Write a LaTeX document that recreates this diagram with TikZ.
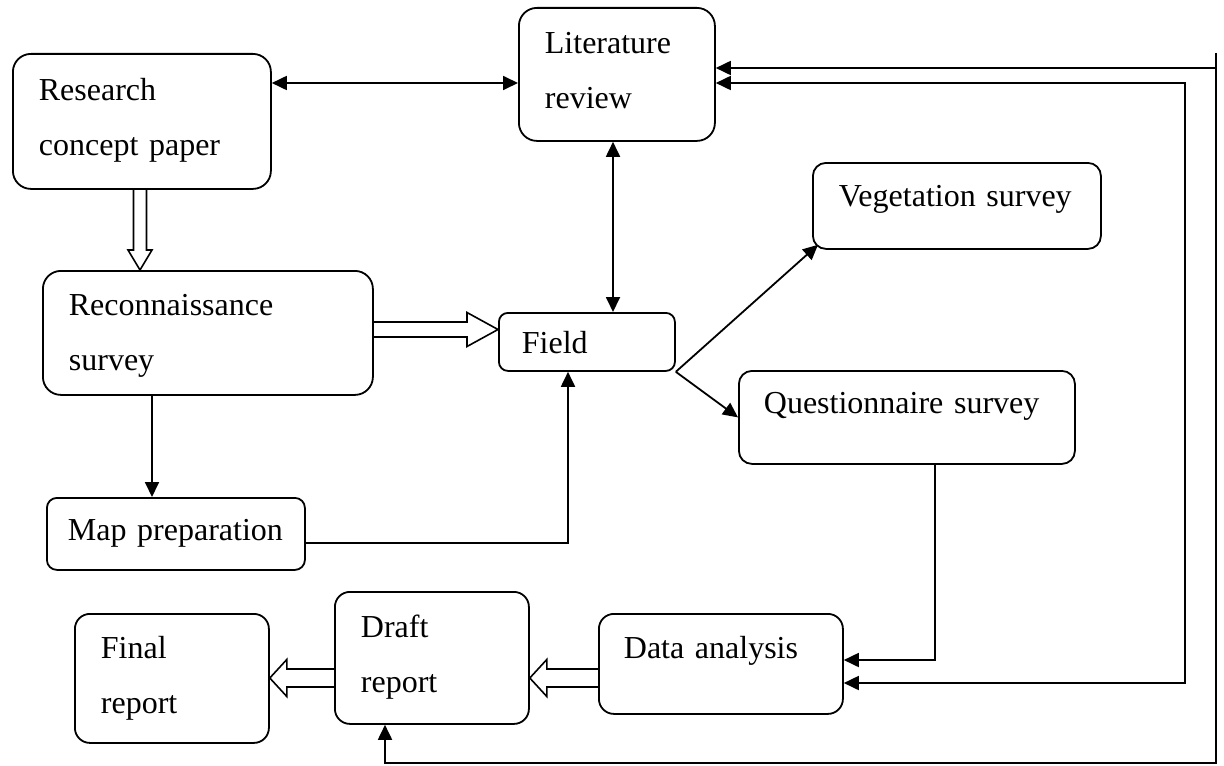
\documentclass[tikz,border=0pt]{standalone}
\usepackage{fontspec}
\setmainfont{Liberation Serif}
\usetikzlibrary{arrows.meta,calc}

\tikzset{
  stage/.style={draw=black, line width=0.9pt, rounded corners=7.5pt, anchor=north west, inner ysep=0pt, align=left, font=\fontsize{16pt}{27.5pt}\selectfont},
  link/.style={line width=0.9pt, >={Triangle[length=7.5pt,width=7pt]}},
  hollow h/.style args={#1/#2/#3}{line width=0.8pt, to path={let \p1=(\tikztostart), \p2=(\tikztotarget), \n1={(\x2-\x1)/abs(\x2-\x1)} in
    (\x1,{\y2+#1}) -- ({\x2-(\n1)*#3},{\y2+#1}) -- ({\x2-(\n1)*#3},{\y2+#2}) -- (\p2) -- ({\x2-(\n1)*#3},{\y2-#2}) -- ({\x2-(\n1)*#3},{\y2-#1}) -- (\x1,{\y2-#1})}},
  hollow v/.style args={#1/#2/#3}{line width=0.8pt, to path={let \p1=(\tikztostart), \p2=(\tikztotarget), \n1={(\y2-\y1)/abs(\y2-\y1)} in
    ({\x2+#1},\y1) -- ({\x2+#1},{\y2-(\n1)*#3}) -- ({\x2+#2},{\y2-(\n1)*#3}) -- (\p2) -- ({\x2-#2},{\y2-(\n1)*#3}) -- ({\x2-#1},{\y2-(\n1)*#3}) -- ({\x2-#1},\y1)}}
}

\begin{document}
\begin{tikzpicture}[x=0.5pt, y=-0.5pt]
			\useasboundingbox (0,0) rectangle (1224,765);
			\node[stage, rounded corners=9pt, inner xsep=13pt, text width=103pt, text height=23.5pt, text depth=44pt] (research) at (12,53) {Research\\concept paper};
			\node[stage, rounded corners=9pt, inner xsep=13pt, text width=72pt, text height=23pt, text depth=43.5pt] (lit) at (518,7) {Literature\\review};
			\node[stage, rounded corners=6.5pt, inner xsep=13pt, text width=118pt, text height=22pt, text depth=21pt] (veg) at (812,162) {Vegetation survey};
			\node[stage, rounded corners=9pt, inner xsep=13pt, text width=139pt, text height=22.5pt, text depth=39.5pt] (recon) at (42,270) {Reconnaissance\\survey};
			\node[stage, rounded corners=4.5pt, inner xsep=11.5pt, text width=65pt, text height=20.5pt, text depth=8.5pt] (field) at (498,312) {Field};
			\node[stage, rounded corners=6.5pt, inner xsep=12.5pt, text width=143pt, text height=21.5pt, text depth=25pt] (quest) at (738,370) {Questionnaire survey};
			\node[stage, rounded corners=5pt, inner xsep=10.5pt, text width=108pt, text height=21.5pt, text depth=14.5pt] (map) at (46,497) {Map preparation};
			\node[stage, inner xsep=13pt, text width=71pt, text height=22.5pt, text depth=42pt] (final) at (74,613) {Final\\report};
			\node[stage, inner xsep=13pt, text width=71pt, text height=23pt, text depth=43pt] (draft) at (334,591) {Draft\\report};
			\node[stage, inner xsep=12.5pt, text width=97pt, text height=22.5pt, text depth=27.5pt] (data) at (598,613) {Data analysis};
			
			\coordinate (outertop) at (1216,53);
			\coordinate (outerbot) at (1216,763);
			\coordinate (innerbot) at (1185,683);
			
			\draw[link, <->] (research.east |- 0,83) -- (lit.west |- 0,83);
			\draw[link, <->] (lit.south -| 613,0) -- (field.north -| 613,0);
			\draw[link, ->] (field.south east) -- ($(veg.south west)+(6,-5)$);
			\draw[link, ->] (field.south east) -- (quest.west);
			\draw[link, ->] (recon.south -| 152,0) -- (map.north -| 152,0);
			\draw[link, ->] (map.east |- 0,543) -| (field.south -| 568,0);
			\draw[link, ->] (quest.south -| 935,0) |- (data.east |- 0,660);
			\draw[link, ->] (outertop |- 0,68) -- (lit.east |- 0,68);
			\draw[link, ->] (outertop) -- (outerbot) -| (draft.south -| 385,0);
			\draw[link, <->] (lit.east |- 0,83) -| (innerbot) -- (data.east |- innerbot);
			
			\draw[hollow v=3.25pt/6pt/10pt] (research.south -| 140,0) to (recon.north -| 140,0);
			\draw[hollow h=3.75pt/8.5pt/15.5pt] (recon.east |- 0,329.5) to (field.west |- 0,329.5);
			\draw[hollow h=4.5pt/9.25pt/8.5pt] (data.west |- 0,678) to (draft.east |- 0,678);
			\draw[hollow h=4.5pt/9.25pt/8.5pt] (draft.west |- 0,678) to (final.east |- 0,678);
		\end{tikzpicture}
\end{document}
